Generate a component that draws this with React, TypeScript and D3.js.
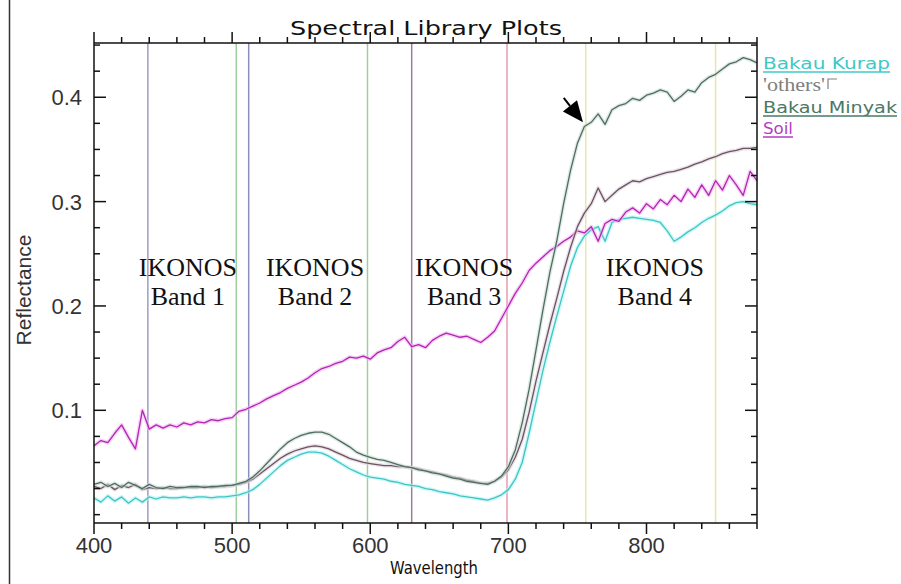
import React from 'react';
import * as d3 from 'd3';

// sample grid (nm)
const wavelength = [
  400, 405, 410, 415, 420, 425, 430, 435, 440, 445, 450, 455, 460, 465, 470, 475, 480, 485, 490, 495,
  500, 505, 510, 515, 520, 525, 530, 535, 540, 545, 550, 555, 560, 565, 570, 575, 580, 585, 590, 595,
  600, 605, 610, 615, 620, 625, 630, 635, 640, 645, 650, 655, 660, 665, 670, 675, 680, 685, 690, 695,
  700, 705, 710, 715, 720, 725, 730, 735, 740, 745, 750, 755, 760, 765, 770, 775, 780, 785, 790, 795,
  800, 805, 810, 815, 820, 825, 830, 835, 840, 845, 850, 855, 860, 865, 870, 875, 880,
];

const bakauKurap = [
  0.016, 0.012, 0.018, 0.013, 0.017, 0.011, 0.016, 0.012, 0.017, 0.015,
  0.017, 0.016, 0.016, 0.017, 0.016, 0.017, 0.017, 0.016, 0.017, 0.017,
  0.018, 0.019, 0.021, 0.024, 0.029, 0.035, 0.041, 0.047, 0.052, 0.055,
  0.058, 0.060, 0.060, 0.059, 0.056, 0.052, 0.048, 0.044, 0.041, 0.038,
  0.036, 0.035, 0.034, 0.032, 0.031, 0.029, 0.028, 0.027, 0.025, 0.024,
  0.022, 0.021, 0.020, 0.018, 0.017, 0.016, 0.015, 0.014, 0.016, 0.019,
  0.024, 0.034, 0.050, 0.078, 0.108, 0.138, 0.165, 0.190, 0.214, 0.238,
  0.256, 0.267, 0.273, 0.276, 0.262, 0.280, 0.283, 0.284, 0.285, 0.284,
  0.283, 0.282, 0.280, 0.272, 0.262, 0.266, 0.271, 0.275, 0.280, 0.284,
  0.287, 0.291, 0.296, 0.299, 0.300, 0.298, 0.297,
];

const others = [
  0.027, 0.025, 0.029, 0.024, 0.028, 0.026, 0.029, 0.024, 0.026, 0.025,
  0.026, 0.025, 0.025, 0.026, 0.026, 0.026, 0.027, 0.026, 0.027, 0.027,
  0.028, 0.029, 0.031, 0.034, 0.039, 0.044, 0.049, 0.054, 0.058, 0.061,
  0.063, 0.065, 0.066, 0.065, 0.063, 0.060, 0.057, 0.054, 0.052, 0.050,
  0.049, 0.048, 0.047, 0.047, 0.046, 0.046, 0.045, 0.044, 0.042, 0.041,
  0.039, 0.038, 0.036, 0.035, 0.033, 0.032, 0.030, 0.030, 0.032, 0.036,
  0.043, 0.055, 0.072, 0.098, 0.128, 0.155, 0.182, 0.207, 0.233, 0.256,
  0.276, 0.289, 0.298, 0.313, 0.300, 0.306, 0.312, 0.316, 0.320, 0.319,
  0.322, 0.324, 0.326, 0.328, 0.329, 0.331, 0.333, 0.336, 0.338, 0.341,
  0.343, 0.346, 0.348, 0.349, 0.351, 0.351, 0.352,
];

const bakauMinyak = [
  0.029, 0.031, 0.027, 0.030, 0.026, 0.031, 0.028, 0.025, 0.029, 0.026,
  0.025, 0.027, 0.026, 0.026, 0.027, 0.027, 0.026, 0.027, 0.027, 0.028,
  0.028, 0.030, 0.032, 0.036, 0.042, 0.049, 0.056, 0.063, 0.069, 0.073,
  0.076, 0.078, 0.079, 0.079, 0.077, 0.073, 0.069, 0.065, 0.060, 0.057,
  0.055, 0.053, 0.052, 0.050, 0.048, 0.046, 0.045, 0.043, 0.042, 0.040,
  0.039, 0.037, 0.035, 0.034, 0.032, 0.031, 0.030, 0.029, 0.032, 0.037,
  0.046, 0.062, 0.088, 0.120, 0.158, 0.196, 0.232, 0.262, 0.298, 0.330,
  0.356, 0.372, 0.376, 0.384, 0.374, 0.388, 0.392, 0.394, 0.399, 0.397,
  0.402, 0.404, 0.407, 0.405, 0.396, 0.401, 0.407, 0.405, 0.414, 0.419,
  0.422, 0.427, 0.432, 0.434, 0.438, 0.436, 0.433,
];

const soil = [
  0.066, 0.071, 0.069, 0.078, 0.086, 0.074, 0.063, 0.100, 0.082, 0.086,
  0.083, 0.086, 0.084, 0.088, 0.086, 0.089, 0.088, 0.091, 0.090, 0.092,
  0.093, 0.099, 0.101, 0.104, 0.107, 0.111, 0.114, 0.117, 0.121, 0.124,
  0.127, 0.131, 0.136, 0.140, 0.142, 0.145, 0.147, 0.151, 0.150, 0.152,
  0.149, 0.155, 0.158, 0.160, 0.166, 0.170, 0.161, 0.163, 0.160, 0.167,
  0.171, 0.174, 0.172, 0.170, 0.171, 0.168, 0.165, 0.170, 0.176, 0.188,
  0.200, 0.212, 0.222, 0.234, 0.241, 0.247, 0.253, 0.257, 0.262, 0.266,
  0.272, 0.270, 0.276, 0.262, 0.279, 0.283, 0.281, 0.290, 0.294, 0.289,
  0.298, 0.293, 0.302, 0.297, 0.306, 0.300, 0.312, 0.304, 0.316, 0.306,
  0.320, 0.311, 0.325, 0.316, 0.306, 0.329, 0.320,
];

// IKONOS band edges (nm) and labels
const bandEdges = [439, 503, 512, 598, 630, 699, 756, 850];
const bandNames = ['Band 1', 'Band 2', 'Band 3', 'Band 4'];
const bandLabelAt = [468, 560, 668, 806];
const xTickLabels = [400, 500, 600, 700, 800];
const yTickLabels = [0.1, 0.2, 0.3, 0.4];

const edgeColors = ['#9c9cc6', '#9ccf9c', '#8a90b8', '#9ccf9c', '#9a8096', '#e49cb0', '#e8e4aa', '#e8e4aa'];

const series = [
  { name: 'Bakau Kurap', values: bakauKurap, color: '#3cc6c6', halo: '#b8f2f2' },
  { name: 'Soil', values: soil, color: '#b424b4', halo: '#efb6ef' },
  { name: "'others'", values: others, color: '#6c5264', halo: '#dcd0d8' },
  { name: 'Bakau Minyak', values: bakauMinyak, color: '#4c6e60', halo: '#cfdcd6' },
];

const legend = [
  { text: 'Bakau Kurap', color: '#40c8c8', serif: false, underline: true },
  { text: "'others'", color: '#808080', serif: true, underline: false },
  { text: 'Bakau Minyak', color: '#4a7866', serif: false, underline: true },
  { text: 'Soil', color: '#b43cc0', serif: false, underline: true },
];

export default function App() {
  const W = 901, H = 584;
  const left = 94, right = 757, top = 43, bottom = 523;
  const x = d3.scaleLinear().domain([400, 880]).range([left, right]);
  const y = d3.scaleLinear().domain([-0.008, 0.452]).range([bottom, top]);

  const path = (vals: number[]) =>
    d3.line<number>()
      .x((_, i) => x(wavelength[i]))
      .y(v => y(v))(vals) as string;

  const xTicks = x.ticks(24);
  const yTicks = d3.range(0, 0.451, 0.025);
  const isMajorX = (v: number) => v % 100 === 0;
  const isMajorY = (v: number) => Math.abs(v * 10 - Math.round(v * 10)) < 1e-6 && v > 0.05;

  const hershey = '"DejaVu Sans", sans-serif';
  const sans = '"Liberation Sans", Arial, sans-serif';
  const serif = '"Liberation Serif", "Times New Roman", serif';

  // arrow pointing at the Bakau Minyak curve
  const tip: [number, number] = [x(754), y(0.376)];
  const dir = [0.62, 0.785];
  const headLen = 21, headHalf = 9, tailLen = 31;
  const base = [tip[0] - dir[0] * headLen, tip[1] - dir[1] * headLen];
  const perp = [-dir[1], dir[0]];
  const head = [
    tip,
    [base[0] + perp[0] * headHalf, base[1] + perp[1] * headHalf],
    [base[0] - perp[0] * headHalf, base[1] - perp[1] * headHalf],
  ].map(p => p.join(',')).join(' ');

  const legendY = [69, 91, 113, 134];
  const legendWidths = [127, 62, 134, 30];

  return (
    <svg width={W} height={H} style={{ position: 'absolute', left: 0, top: 0, background: '#fff' }}>
      <rect x={0} y={0} width={W} height={H} fill="#fff" />
      <line x1={9.5} x2={9.5} y1={0} y2={H} stroke="#333" strokeWidth={1.5} />

      {/* band edge lines */}
      {bandEdges.map((b, i) => (
        <line key={'b' + i} x1={x(b)} x2={x(b)} y1={top} y2={bottom} stroke={edgeColors[i]} strokeWidth={1.5} />
      ))}

      {/* band labels */}
      {bandNames.map((n, i) => (
        <g key={'bl' + i} fontFamily={serif} fontSize={26} fill="#111" textAnchor="middle">
          <text x={x(bandLabelAt[i])} y={276}>IKONOS</text>
          <text x={x(bandLabelAt[i])} y={305}>{n}</text>
        </g>
      ))}

      {/* curves */}
      {series.map(s => (
        <g key={s.name} fill="none" strokeLinejoin="round">
          <path d={path(s.values)} stroke={s.halo} strokeWidth={4} opacity={0.6} />
          <path d={path(s.values)} stroke={s.color} strokeWidth={1.3} />
        </g>
      ))}

      {/* axes frame */}
      <g stroke="#111" strokeWidth={1.5} fill="none">
        <line x1={left} x2={right} y1={bottom} y2={bottom} />
        <line x1={left} x2={right} y1={top} y2={top} />
        <line x1={left} x2={left} y1={top} y2={bottom} />
        <line x1={right} x2={right} y1={top} y2={bottom} />
        {xTicks.map(t => {
          const len = isMajorX(t) ? 11 : 6;
          return (
            <g key={'xt' + t}>
              <line x1={x(t)} x2={x(t)} y1={bottom} y2={bottom + len} />
              <line x1={x(t)} x2={x(t)} y1={top} y2={top - len} />
            </g>
          );
        })}
        {yTicks.map(t => {
          const len = isMajorY(t) ? 12 : 6;
          return (
            <g key={'yt' + t}>
              <line x1={left} x2={left + len} y1={y(t)} y2={y(t)} />
              <line x1={right} x2={right - len} y1={y(t)} y2={y(t)} />
            </g>
          );
        })}
      </g>

      {/* tick labels */}
      {xTickLabels.map(t => (
        <text key={'xl' + t} x={x(t)} y={553} textAnchor="middle" fontFamily={sans} fontSize={22} fill="#333">{t}</text>
      ))}
      {yTickLabels.map(t => (
        <text key={'yl' + t} x={82} y={y(t) + 8} textAnchor="end" fontFamily={sans} fontSize={22} fill="#333">{t.toFixed(1)}</text>
      ))}

      {/* titles */}
      <text x={426} y={35} textAnchor="middle" fontFamily={hershey} fontSize={20} fill="#111"
        textLength={272} lengthAdjust="spacingAndGlyphs">Spectral Library Plots</text>
      <text x={434} y={574} textAnchor="middle" fontFamily={hershey} fontSize={18} fill="#111"
        textLength={88} lengthAdjust="spacingAndGlyphs">Wavelength</text>
      <text transform="translate(31,290) rotate(-90)" textAnchor="middle" fontFamily={sans} fontSize={21} fill="#333">Reflectance</text>

      {/* arrow */}
      <line x1={tip[0] - dir[0] * tailLen} y1={tip[1] - dir[1] * tailLen} x2={base[0]} y2={base[1]} stroke="#000" strokeWidth={2} />
      <polygon points={head} fill="#000" />

      {/* legend */}
      {legend.map((l, i) => (
        <g key={'lg' + i}>
          <text x={763} y={legendY[i]} fontFamily={l.serif ? serif : hershey}
            fontSize={l.serif ? 19 : 16} fill={l.color} textLength={legendWidths[i]} lengthAdjust="spacingAndGlyphs">{l.text}</text>
          {l.underline && (
            <line x1={763} x2={763 + legendWidths[i]} y1={legendY[i] + 3} y2={legendY[i] + 3} stroke={l.color} strokeWidth={1.5} />
          )}
        </g>
      ))}
      <path d="M828,89 V79 H837" stroke="#808080" strokeWidth={1.2} fill="none" />
    </svg>
  );
}
